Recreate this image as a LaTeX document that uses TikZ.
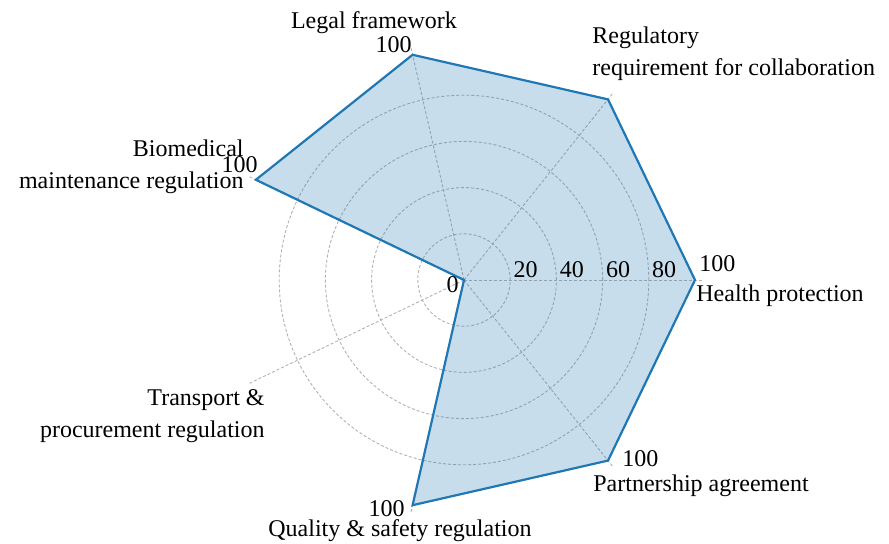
\documentclass[tikz,border=0pt]{standalone}
\usepackage{fontspec}
\setmainfont{Liberation Serif}
\definecolor{areablue}{HTML}{1F77B4}

\begin{document}
\begin{tikzpicture}[x=0.5pt, y=0.5pt,
    grid/.style = {draw=black!30, dash pattern=on 1.5pt off 1pt, line width=0.45pt},
    area/.style = {draw=areablue, fill=areablue, fill opacity=0.25, draw opacity=1, line width=1.1pt},
    lbl/.style = {inner sep=0pt, font=\fontsize{12}{16}\selectfont}]

    \useasboundingbox (-464,-264) rectangle (425,280);

    \coordinate (c) at (0,0);
    \foreach \i in {0,...,6} {
        \coordinate (a\i) at ({\i*360/7}:231);
        \coordinate (s\i) at ({\i*360/7}:239);
    }

    \foreach \i in {0,...,6}
        \draw[grid] (c) -- (s\i);
    \foreach \k in {1,...,4}
        \draw[grid] (c) circle ({\k*46.2});

    % value polygon (transport = 0)
    \draw[area] (a0) -- (a1) -- (a2) -- (a3) -- (c) -- (a5) -- (a6) -- cycle;

    \foreach \v [count=\k] in {20,40,60,80}
        \node[lbl, anchor=base west] (r\v) at ({\k*46.2+3}, 2) {\v};
    \node[lbl, anchor=base east] (r0) at (-5,-13) {0};

    \node[lbl, anchor=base west] (v0) at (235,8) {100};
    \node[lbl, anchor=base west] (t0) at (232,-22) {Health protection};
    \node[lbl, anchor=north west, align=left] (t1) at (128,254) {Regulatory\\requirement for collaboration};
    \node[lbl, anchor=base east] (v2) at (-52,227) {100};
    \node[lbl, anchor=base] (t2) at (-90,251) {Legal framework};
    \node[lbl, anchor=base east] (v3) at (-206,107) {100};
    \node[lbl, anchor=north east, align=right] (t3) at (-220,141) {Biomedical\\maintenance regulation};
    \node[lbl, anchor=north east, align=right] (t4) at (-199,-109) {Transport \&\\procurement regulation};
    \node[lbl, anchor=base east] (v5) at (-59,-237) {100};
    \node[lbl, anchor=base] (t5) at (-64,-257) {Quality \& safety regulation};
    \node[lbl, anchor=base west] (v6) at (158,-187) {100};
    \node[lbl, anchor=base west] (t6) at (129,-212) {Partnership agreement};
\end{tikzpicture}
\end{document}
